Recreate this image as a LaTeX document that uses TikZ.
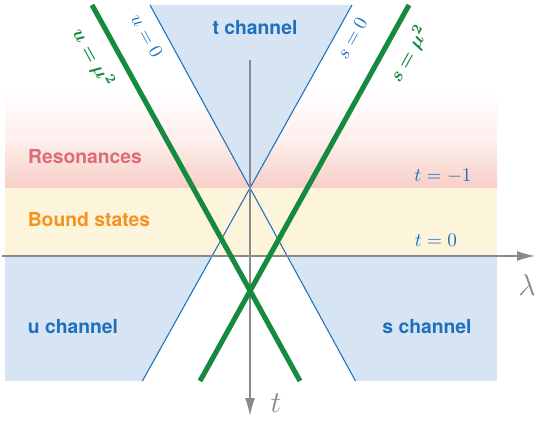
\documentclass[tikz,border=0pt]{standalone}
\usepackage{amsmath,bm}
\usepackage{fontspec}
\setsansfont{TeX Gyre Heros}
\usetikzlibrary{arrows.meta,positioning}
\definecolor{chanfill}{RGB}{214,228,243}
\definecolor{chanblue}{RGB}{28,112,190}
\definecolor{massgreen}{RGB}{22,138,62}
\definecolor{boundfill}{RGB}{253,244,220}
\definecolor{resfill}{RGB}{248,206,198}
\definecolor{restext}{RGB}{222,108,116}
\definecolor{boundtext}{RGB}{246,146,32}
\definecolor{axisgray}{RGB}{138,138,142}

\begin{document}
\begin{tikzpicture}[
        x=0.02cm, y=-0.02cm,
        font=\sffamily\bfseries\fontsize{11}{13}\selectfont,
        region/.style={fill=chanfill},
        zero_line/.style={draw=chanblue, line width=0.6pt},
        mass_line/.style={draw=massgreen, line width=2.9pt},
        axis_line/.style={draw=axisgray, line width=0.8pt, -{Latex[length=0.36cm, width=0.2cm]}},
        chan_label/.style={text=chanblue},
        line_label/.style={text=chanblue, font=\fontsize{11}{13}\selectfont},
        mass_label/.style={text=massgreen, font=\fontsize{11}{13}\selectfont},
        axis_label/.style={text=axisgray, font=\fontsize{16}{18}\selectfont}
    ]
        \useasboundingbox (0,0) rectangle (535,422);

        \fill[top color=white, bottom color=resfill, middle color=resfill!30] (5,88) rectangle (497,188);
        \fill[boundfill] (5,188) rectangle (497,256);

        \coordinate (u0top) at (150,5);
        \coordinate (s0top) at (352,5);
        \coordinate (cross) at (250,188);
        \coordinate (u0bot) at (355.5,381);
        \coordinate (s0bot) at (142.4,381);

        \fill[region] (u0top) -- (s0top) -- (cross) -- cycle;
        \fill[region] (5,256) -- (212.1,256) -- (s0bot) -- (5,381) -- cycle;
        \fill[region] (287.2,256) -- (497,256) -- (497,381) -- (u0bot) -- cycle;

        \draw[zero_line] (u0top) -- (u0bot);
        \draw[zero_line] (s0top) -- (s0bot);

        \coordinate (hstart) at (2,256);
        \coordinate (hend) at (535,256);
        \coordinate (vstart) at (250,60);
        \coordinate (vend) at (250,416);
        \draw[axis_line] (hstart) -- (hend);
        \draw[axis_line] (vstart) -- (vend);

        \coordinate (umtop) at (92,5);
        \coordinate (umbot) at (300,381);
        \coordinate (smtop) at (409,5);
        \coordinate (smbot) at (200,381);
        \draw[mass_line] (umtop) -- (umbot);
        \draw[mass_line] (smtop) -- (smbot);

        \node[chan_label] (tchan) at (255,28) {t channel};
        \node[chan_label] (uchan) at (73,327) {u channel};
        \node[chan_label] (schan) at (427,327) {s channel};
        \node[text=restext] (reson) at (85,157) {Resonances};
        \node[text=boundtext] (bound) at (89,220) {Bound states};

        \node[line_label] (tminus) at (443,176) {$t=-1$};
        \node[line_label] (tzero) at (436,240) {$t=0$};
        \node[line_label, rotate=-61] (uzero) at (147,36) {$u=0$};
        \node[line_label, rotate=61] (szero) at (352,38) {$s=0$};
        \node[mass_label, rotate=-61] (umass) at (93,58) {$\bm{u=\mu^2}$};
        \node[mass_label, rotate=61] (smass) at (409,54) {$\bm{s=\mu^2}$};

        \node[axis_label] (lam) at (527,285) {$\lambda$};
        \node[axis_label] (tlab) at (276,403) {$t$};
    \end{tikzpicture}
\end{document}
